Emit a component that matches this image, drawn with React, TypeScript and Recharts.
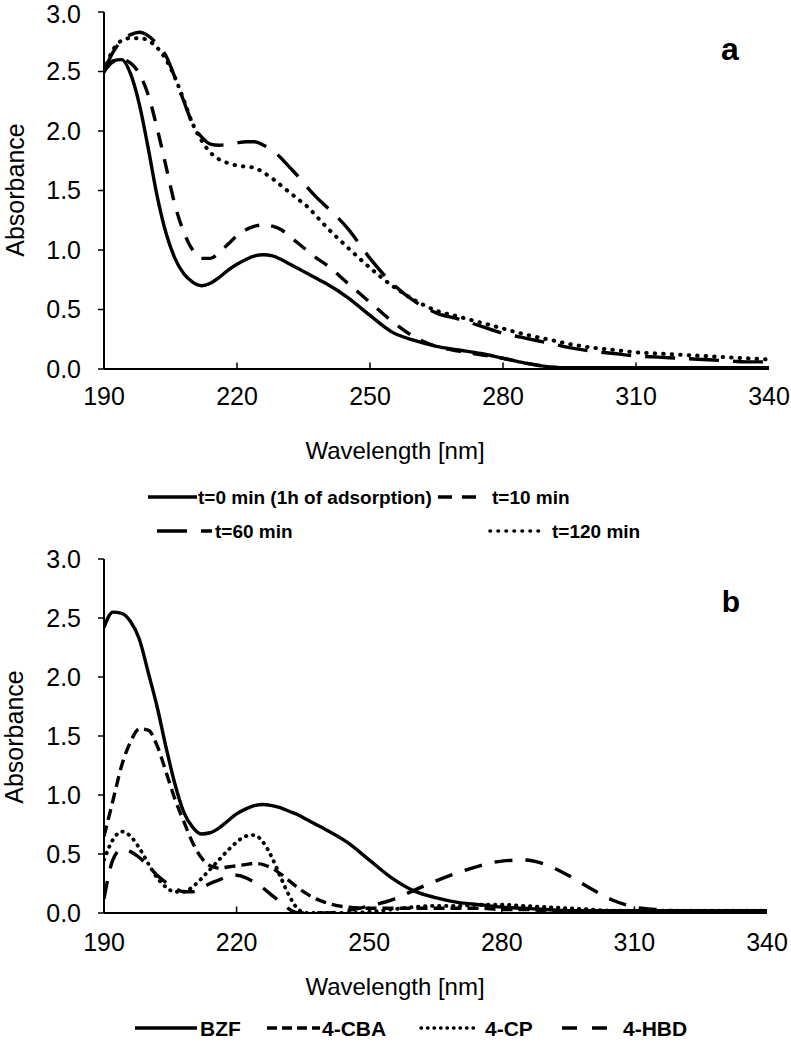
import { LineChart, Line, XAxis, YAxis, ReferenceLine } from "recharts";

// wavelength grid [nm]
const wavelengths = [
    190, 192, 194, 196, 198, 200, 202, 204, 206, 208, 210, 212, 214, 216, 218, 220, 222, 224, 226, 228, 230, 232, 234, 236, 238, 240,
    245, 250, 255, 260, 265, 270, 275, 280, 285, 290, 295, 300, 305, 310, 315, 320, 325, 330, 335, 340,
];

const xTicks = [190, 220, 250, 280, 310, 340];
const yTicks = [0, 0.5, 1, 1.5, 2, 2.5, 3];

// panel a: photocatalysis time series
const t0 = [
    2.50, 2.59, 2.60, 2.48, 2.22, 1.85, 1.45, 1.14, 0.93, 0.80, 0.73, 0.70, 0.72, 0.77, 0.83, 0.88, 0.92, 0.95, 0.96, 0.95, 0.92, 0.88, 0.84, 0.80, 0.76, 0.72,
    0.60, 0.45, 0.31, 0.24, 0.19, 0.16, 0.13, 0.09, 0.05, 0.02, 0.01, 0.01, 0.01, 0.01, 0.01, 0.01, 0.01, 0.01, 0.01, 0.01,
];
const t10 = [
    2.50, 2.58, 2.60, 2.57, 2.48, 2.30, 2.02, 1.70, 1.38, 1.15, 1.00, 0.93, 0.93, 0.98, 1.05, 1.12, 1.17, 1.20, 1.21, 1.20, 1.17, 1.11, 1.05, 0.99, 0.93, 0.88,
    0.72, 0.56, 0.40, 0.27, 0.19, 0.15, 0.12, 0.09, 0.05, 0.02, 0.01, 0.01, 0.01, 0.01, 0.01, 0.01, 0.01, 0.01, 0.01, 0.01,
];
const t60 = [
    2.50, 2.66, 2.76, 2.81, 2.83, 2.80, 2.73, 2.63, 2.45, 2.25, 2.06, 1.95, 1.89, 1.88, 1.89, 1.90, 1.91, 1.91, 1.88, 1.84, 1.77, 1.69, 1.61, 1.52, 1.44, 1.37,
    1.18, 0.93, 0.72, 0.57, 0.47, 0.42, 0.36, 0.30, 0.26, 0.22, 0.18, 0.15, 0.13, 0.11, 0.10, 0.09, 0.08, 0.07, 0.06, 0.06,
];
const t120 = [
    2.50, 2.68, 2.76, 2.78, 2.78, 2.76, 2.70, 2.60, 2.45, 2.26, 2.06, 1.92, 1.82, 1.76, 1.73, 1.71, 1.70, 1.69, 1.65, 1.60, 1.54, 1.48, 1.42, 1.36, 1.28, 1.20,
    1.02, 0.85, 0.70, 0.58, 0.49, 0.44, 0.39, 0.34, 0.29, 0.25, 0.21, 0.18, 0.16, 0.14, 0.13, 0.12, 0.11, 0.10, 0.09, 0.08,
];

// panel b: compounds
const bzf = [
    2.42, 2.55, 2.54, 2.47, 2.32, 2.04, 1.75, 1.41, 1.10, 0.86, 0.73, 0.67, 0.68, 0.72, 0.78, 0.84, 0.88, 0.91, 0.92, 0.91, 0.89, 0.86, 0.83, 0.79, 0.75, 0.71,
    0.60, 0.45, 0.30, 0.19, 0.13, 0.09, 0.07, 0.05, 0.04, 0.03, 0.02, 0.02, 0.02, 0.02, 0.02, 0.02, 0.02, 0.02, 0.02, 0.02,
];
const cba = [
    0.65, 0.95, 1.25, 1.45, 1.56, 1.55, 1.42, 1.20, 0.97, 0.78, 0.60, 0.47, 0.40, 0.38, 0.39, 0.40, 0.41, 0.42, 0.41, 0.38, 0.33, 0.27, 0.21, 0.16, 0.12, 0.09,
    0.05, 0.04, 0.04, 0.04, 0.04, 0.04, 0.04, 0.03, 0.03, 0.02, 0.02, 0.02, 0.02, 0.02, 0.02, 0.02, 0.02, 0.02, 0.02, 0.02,
];
const cp = [
    0.45, 0.62, 0.69, 0.65, 0.55, 0.42, 0.30, 0.22, 0.18, 0.18, 0.22, 0.29, 0.37, 0.45, 0.53, 0.60, 0.65, 0.66, 0.60, 0.47, 0.30, 0.14, 0.03, 0.00, 0.00, 0.00,
    0.00, 0.01, 0.03, 0.05, 0.06, 0.06, 0.07, 0.07, 0.06, 0.05, 0.04, 0.03, 0.02, 0.02, 0.02, 0.02, 0.02, 0.02, 0.02, 0.02,
];
const hbd = [
    0.12, 0.45, 0.54, 0.52, 0.47, 0.40, 0.32, 0.26, 0.21, 0.18, 0.18, 0.21, 0.25, 0.28, 0.31, 0.32, 0.30, 0.26, 0.21, 0.15, 0.09, 0.03, 0.00, 0.00, 0.00, 0.00,
    0.02, 0.06, 0.11, 0.19, 0.27, 0.34, 0.40, 0.44, 0.45, 0.41, 0.32, 0.21, 0.11, 0.05, 0.03, 0.02, 0.02, 0.02, 0.02, 0.02,
];

const timeRows = wavelengths.map((w, i) => ({ w, t0: t0[i], t10: t10[i], t60: t60[i], t120: t120[i] }));
const compoundRows = wavelengths.map((w, i) => ({ w, bzf: bzf[i], cba: cba[i], cp: cp[i], hbd: hbd[i] }));

const FONT = "'Liberation Sans', Arial, sans-serif";
const tickStyle = { fill: "#000", fontSize: 25, fontFamily: FONT };
const axisLine = { stroke: "#000", strokeWidth: 2 };

function frameAxes(tickMargin: number, xHeight: number) {
    return [
        <XAxis key="xb" dataKey="w" type="number" domain={[190, 340]} ticks={xTicks} allowDataOverflow
            axisLine={axisLine} tickLine={false} tickSize={0} tickMargin={tickMargin} height={xHeight} tick={tickStyle} />,
        <XAxis key="xt" xAxisId="top" orientation="top" dataKey="w" type="number" domain={[190, 340]}
            axisLine={axisLine} tick={false} tickLine={false} height={0} />,
        <YAxis key="yl" type="number" domain={[0, 3]} ticks={yTicks} allowDataOverflow width={104}
            tickFormatter={(v: number) => v.toFixed(1)} axisLine={axisLine} tickLine={{ stroke: "#000", strokeWidth: 1.5 }}
            tickSize={6} tickMargin={17} tick={tickStyle} />,
        <YAxis key="yr" yAxisId="right" orientation="right" type="number" domain={[0, 3]}
            axisLine={axisLine} tick={false} tickLine={false} width={0} />,
        ...xTicks.slice(1, -1).map(t => (
            <ReferenceLine key={"tk" + t} segment={[{ x: t, y: 0 }, { x: t, y: 0.055 }]} stroke="#000" strokeWidth={1.5} />
        )),
    ];
}

function App() {
    const lineBase = { type: "monotone" as const, stroke: "#000", dot: false, isAnimationActive: false, strokeWidth: 3.4 };
    return (
        <div style={{ position: "absolute", left: 0, top: 0, width: 791, height: 1053, background: "#fff" }}>
            <div style={{ position: "absolute", left: 0, top: 0 }}>
                <LineChart width={791} height={440} data={timeRows} margin={{ top: 12, right: 22, left: 0, bottom: 40 }}>
                    {frameAxes(18, 31)}
                    <Line {...lineBase} dataKey="t0" name="t=0 min (1h of adsorption)" />
                    <Line {...lineBase} dataKey="t10" name="t=10 min" strokeDasharray="15 12" />
                    <Line {...lineBase} dataKey="t60" name="t=60 min" strokeDasharray="30 14" />
                    <Line {...lineBase} dataKey="t120" name="t=120 min" strokeDasharray="0.5 8" strokeLinecap="round" strokeWidth={4} />
                </LineChart>
            </div>
            <div style={{ position: "absolute", left: 0, top: 540 }}>
                <LineChart width={791} height={440} data={compoundRows} margin={{ top: 19, right: 24, left: 0, bottom: 40 }}>
                    {frameAxes(20, 27)}
                    <Line {...lineBase} dataKey="bzf" name="BZF" />
                    <Line {...lineBase} dataKey="cba" name="4-CBA" strokeDasharray="11 6" />
                    <Line {...lineBase} dataKey="cp" name="4-CP" strokeDasharray="0.5 6.5" strokeLinecap="round" strokeWidth={3.8} />
                    <Line {...lineBase} dataKey="hbd" name="4-HBD" strokeDasharray="18 13" />
                </LineChart>
            </div>
            <svg width={791} height={1053} style={{ position: "absolute", left: 0, top: 0, pointerEvents: "none" }} fontFamily={FONT}>
                <text x={15} y={190} transform="rotate(-90 15 190)" textAnchor="middle" dominantBaseline="central" fontSize={25}>Absorbance</text>
                <text x={395} y={450} textAnchor="middle" dominantBaseline="central" fontSize={24}>Wavelength [nm]</text>
                <text x={730} y={60} textAnchor="middle" fontSize={32} fontWeight="bold">a</text>

                <g fontSize={19} fontWeight="bold">
                    <line x1={148} x2={197} y1={497} y2={497} stroke="#000" strokeWidth={3.4} />
                    <text x={198} y={497} dominantBaseline="central">t=0 min (1h of adsorption)</text>
                    <line x1={438} x2={478} y1={497} y2={497} stroke="#000" strokeWidth={3.4} strokeDasharray="14 10" />
                    <text x={492} y={497} dominantBaseline="central">t=10 min</text>
                    <line x1={157} x2={212} y1={531} y2={531} stroke="#000" strokeWidth={3.4} strokeDasharray="30 14" />
                    <text x={215} y={531} dominantBaseline="central">t=60 min</text>
                    <line x1={490} x2={543} y1={531} y2={531} stroke="#000" strokeWidth={3.6} strokeDasharray="0.5 7.5" strokeLinecap="round" />
                    <text x={552} y={531} dominantBaseline="central">t=120 min</text>
                </g>

                <text x={14} y={737} transform="rotate(-90 14 737)" textAnchor="middle" dominantBaseline="central" fontSize={25}>Absorbance</text>
                <text x={395} y={986} textAnchor="middle" dominantBaseline="central" fontSize={24}>Wavelength [nm]</text>
                <text x={731} y={612} textAnchor="middle" fontSize={30} fontWeight="bold">b</text>

                <g fontSize={21} fontWeight="bold">
                    <line x1={135} x2={197} y1={1028} y2={1028} stroke="#000" strokeWidth={3.4} />
                    <text x={200} y={1028} dominantBaseline="central">BZF</text>
                    <line x1={267} x2={320} y1={1028} y2={1028} stroke="#000" strokeWidth={3.4} strokeDasharray="10 5" />
                    <text x={322} y={1028} dominantBaseline="central">4-CBA</text>
                    <line x1={421} x2={475} y1={1028} y2={1028} stroke="#000" strokeWidth={3.4} strokeDasharray="0.5 6" strokeLinecap="round" />
                    <text x={485} y={1028} dominantBaseline="central">4-CP</text>
                    <line x1={562} x2={607} y1={1028} y2={1028} stroke="#000" strokeWidth={3.4} strokeDasharray="15 15" />
                    <text x={623} y={1028} dominantBaseline="central">4-HBD</text>
                </g>
            </svg>
        </div>
    );
}

export default App;
